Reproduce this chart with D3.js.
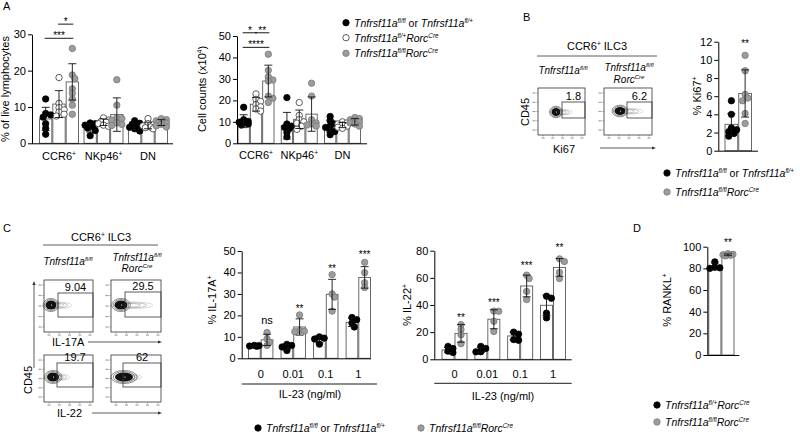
<!DOCTYPE html>
<html><head><meta charset="utf-8">
<script src="https://cdn.jsdelivr.net/npm/d3@7/dist/d3.min.js"></script>
<style>html,body{margin:0;padding:0;background:#fff}svg{display:block}</style>
</head><body>
<svg id="fig" width="800" height="435" xmlns="http://www.w3.org/2000/svg"></svg>
<script>
// ================= DATA =================
const subsetBase = ["CCR6", "NKp46", "DN"];
const subsetSup  = ["+", "+", ""];

// Panel A left: % of live lymphocytes
const liveTicks = [0, 10, 20, 30];
const liveCtrlMean = [6.7, 4.3, 4.7], liveCtrlSd = [3.2, 1.2, 0.9];
const liveHetMean  = [10.8, 5.8, 4.9], liveHetSd  = [3.7, 0.9, 0.9];
const liveKoMean   = [16.9, 7.9, 5.7], liveKoSd   = [5.0, 4.6, 0.8];
const liveCtrlPts = [[12.2,8.2,7.8,7.2,5.4,4.1,2.5],[5.6,5.4,5.0,4.6,4.2,3.5,2.1],[6.2,5.5,5.2,4.8,4.4,4.0,3.4]];
const liveHetPts  = [[18.1,11.0,9.8,9.2,8.6,8.0,7.5],[7.0,6.4,6.0,5.8,5.4,5.0,4.7],[6.8,5.4,5.1,4.8,4.5,4.3,4.0]];
const liveKoPts   = [[26.1,18.8,17.8,15.0,13.8,12.2,10.5,8.0],[17.5,10.5,7.0,6.8,6.4,5.6,5.2,4.9],[6.8,6.5,6.2,6.0,5.8,5.5,5.2,4.8,4.5]];
const liveSig = [{a:"ctrl", b:"ko", at:28.9, label:"***"}, {a:"het", b:"ko", at:32.8, label:"*"}];

// Panel A middle: cell counts (x10^4)
const countTicks = [0, 10, 20, 30, 40, 50];
const countCtrlMean = [10.3, 8.2, 8.0], countCtrlSd = [3.0, 6.2, 2.8];
const countHetMean  = [18.2, 11.2, 8.5], countHetSd  = [3.2, 4.3, 1.2];
const countKoMean   = [29.0, 13.6, 10.0], countKoSd  = [7.4, 8.0, 1.5];
const countCtrlPts = [[16.8,11.0,10.2,9.8,9.4,9.0,8.5],[21.3,9.0,8.0,7.4,6.8,5.0,3.0],[12.5,10.5,9.0,8.0,7.4,6.0,5.5,4.0]];
const countHetPts  = [[23.0,20.5,19.5,18.0,17.0,16.0,15.0],[19.0,13.0,11.0,10.0,9.4,8.0,6.5],[10.0,9.5,9.0,8.5,8.0,7.5,7.0]];
const countKoPts   = [[41.5,34.0,31.0,29.5,29.0,22.0,21.0,19.0],[28.0,22.0,11.0,9.5,9.0,8.5,8.0],[12.0,11.5,11.0,10.5,10.0,9.5,9.0,8.0]];
const countSig = [{a:"ctrl", b:"ko", at:44.7, label:"****"}, {a:"ctrl", b:"het", at:51.5, label:"*"}, {a:"het", b:"ko", at:51.5, label:"**"}];

// Panel B: % Ki67+
const ki67Ticks = [0, 2, 4, 6, 8, 10, 12];
const ki67Mean = [2.9, 6.3], ki67Sd = [1.2, 2.6];
const ki67CtrlPts = [5.5, 4.0, 2.5, 2.3, 2.1, 1.9, 1.6];
const ki67KoPts   = [10.5, 8.8, 6.2, 5.8, 5.5, 4.1, 3.0];
const ki67SigAt = 11.4, ki67SigLabel = "**";
const flowB = ["1.8", "6.2"];

// Panel C: IL-23 stimulation
const doseCats = ["0", "0.01", "0.1", "1"];
const il17Ticks = [0, 10, 20, 30, 40, 50];
const il17CtrlMean = [5.8, 5.4, 8.8, 16.8], il17CtrlSd = [0.3, 1.2, 1.6, 2.0];
const il17KoMean   = [8.6, 14.6, 29.8, 37.7], il17KoSd  = [2.6, 3.8, 7.0, 5.0];
const il17CtrlPts = [[6.0,5.9,5.7,5.6],[6.5,6.0,5.3,3.6],[10.0,9.4,9.0,6.6],[19.0,18.0,16.4,14.6]];
const il17KoPts   = [[12.0,9.0,7.5,6.0],[20.2,13.0,12.4,12.6],[39.0,30.0,28.5,22.0],[44.7,39.9,35.2,33.0]];
const il17SigLabels = ["ns", "**", "**", "***"];
const il17SigAt = [16.2, 21.6, 40.4, 46.7];

const il22Ticks = [0, 20, 40, 60, 80];
const il22CtrlMean = [6.9, 6.9, 17.2, 39.8], il22CtrlSd = [1.8, 1.8, 2.9, 7.5];
const il22KoMean   = [19.1, 29.5, 54.0, 67.7], il22KoSd  = [6.5, 7.0, 8.0, 6.5];
const il22CtrlPts = [[9.5,8.0,6.0,5.0],[9.5,8.0,5.5,5.6],[20.0,18.5,14.5,14.0],[46.5,45.0,34.0,30.5]];
const il22KoPts   = [[25.5,22.0,18.0,11.5],[35.5,35.4,28.0,20.5],[62.0,59.5,50.0,44.0],[74.0,72.0,64.0,59.5]];
const il22SigLabels = ["**", "***", "***", "**"];
const il22SigAt = [28.2, 38.9, 66.5, 79.7];
const flowC17 = ["9.04", "29.5"];
const flowC22 = ["19.7", "62"];

// Panel D: % RANKL+
const ranklTicks = [0, 20, 40, 60, 80, 100];
const ranklMean = [82.0, 92.5], ranklSd = [3.0, 0.8];
const ranklHetPts = [86, 81, 80.5, 80];
const ranklKoPts  = [93.5, 93, 92.5, 92, 91.5];
const ranklSigAt = 100.2, ranklSigLabel = "**";

// ================= DRAWING =================
const FONT = '"Liberation Sans", Arial, Helvetica, sans-serif';
const svg = d3.select("#fig").attr("font-family", FONT);
const COL = {
  ctrl: {fill: "#000", stroke: "#000"},
  het:  {fill: "#fff", stroke: "#333"},
  ko:   {fill: "#9c9c9c", stroke: "#7a7a7a"}
};
const R = 3.2;

function rich(g, x, y, parts, o = {}) {
  const fs = o.size || 11;
  const t = g.append("text").attr("x", x).attr("y", y).attr("font-size", fs)
    .attr("text-anchor", o.anchor || "start").attr("fill", o.fill || "#000");
  if (o.rotate) t.attr("transform", `rotate(-90,${x},${y})`);
  let shift = 0;
  parts.forEach(p => {
    const s = t.append("tspan").text(p.t);
    const target = p.sup ? -0.4 * fs : 0;
    if (target !== shift) { s.attr("dy", target - shift); shift = target; }
    s.attr("font-size", p.sup ? fs * 0.6 : fs);
    if (p.it) s.attr("font-style", "italic");
  });
  return t;
}
const gene = (sup, rorc) => {
  const p = [{t: "Tnfrsf11a", it: true}, {t: sup, sup: true, it: true}];
  if (rorc) p.push({t: "Rorc", it: true}, {t: "Cre", sup: true, it: true});
  return p;
};
const ctrlLegend = gene("fl/fl").concat([{t: " or "}], gene("fl/+"));

// deterministic horizontal spread of points inside a bar
function swarm(vals, y, bw) {
  const order = vals.map((v, i) => ({i, py: y(v)})).sort((a, b) => a.py - b.py);
  const placed = [], out = new Array(vals.length).fill(0);
  const maxOff = Math.max(0, bw / 2 - R * 0.5);
  const step = Math.min(R * 1.0, maxOff / 2 || 0);
  const cand = [0, 1, -1, 2, -2].map(c => c * step).filter(o => Math.abs(o) <= maxOff + 0.01);
  const minD = R * 1.25;
  order.forEach(o => {
    let best = cand[0], bestD = -1;
    for (const ox of cand) {
      const d = placed.length ? Math.min(...placed.map(p => Math.hypot(p.x - ox, p.y - o.py))) : 1e9;
      if (d >= minD) { best = ox; bestD = 1e9; break; }
      if (d > bestD) { bestD = d; best = ox; }
    }
    placed.push({x: best, y: o.py}); out[o.i] = best;
  });
  return out;
}

function barDot(cfg) {
  const g = svg.append("g");
  const y = d3.scaleLinear().domain([0, cfg.yMax]).range([cfg.yBottom, cfg.yTop]);
  const x = d3.scaleBand().domain(cfg.cats).range(cfg.band).paddingInner(cfg.pad || 0).paddingOuter(0);
  const xs = d3.scaleBand().domain(cfg.series.map(s => s.key)).range([0, x.bandwidth()]);
  const cx = (c, k) => x(c) + xs(k) + xs.bandwidth() / 2;
  cfg.series.forEach(s => cfg.cats.forEach((c, i) => {
    g.append("rect").attr("x", x(c) + xs(s.key) + 0.5).attr("y", y(s.mean[i]))
      .attr("width", xs.bandwidth() - 1).attr("height", y(0) - y(s.mean[i]))
      .attr("fill", "#fff").attr("stroke", "#5a5a5a").attr("stroke-width", 0.9);
  }));
  cfg.series.forEach(s => cfg.cats.forEach((c, i) => {
    const offs = swarm(s.pts[i], y, xs.bandwidth());
    s.pts[i].forEach((v, j) => g.append("circle").attr("cx", cx(c, s.key) + offs[j]).attr("cy", y(v))
      .attr("r", R).attr("fill", COL[s.key].fill).attr("stroke", COL[s.key].stroke).attr("stroke-width", 0.8));
  }));
  const cap = 4;
  cfg.series.forEach(s => cfg.cats.forEach((c, i) => {
    const xc = cx(c, s.key), hi = y(s.mean[i] + s.sd[i]), lo = y(Math.max(0, s.mean[i] - s.sd[i]));
    g.append("line").attr("x1", xc).attr("x2", xc).attr("y1", hi).attr("y2", lo).attr("stroke", "#111").attr("stroke-width", 0.9);
    [hi, lo].forEach(yy => g.append("line").attr("x1", xc - cap).attr("x2", xc + cap).attr("y1", yy).attr("y2", yy).attr("stroke", "#111").attr("stroke-width", 0.9));
  }));
  const ax = d3.axisLeft(y).tickValues(cfg.ticks).tickSize(4).tickSizeOuter(0).tickPadding(2);
  const a = g.append("g").attr("transform", `translate(${cfg.axisX},0)`).call(ax);
  a.attr("font-family", null).attr("font-size", null);
  a.selectAll("text").attr("font-size", 11).attr("fill", "#000");
  a.select(".domain").attr("stroke", "#000");
  a.selectAll(".tick line").attr("stroke", "#000");
  g.append("line").attr("x1", cfg.axisX).attr("x2", cfg.axisEnd).attr("y1", y(0) + 0.5).attr("y2", y(0) + 0.5)
    .attr("stroke", "#000");
  return {g, x, xs, y, cx};
}

function sigBars(ch, cat, sigs) {
  sigs.forEach(s => {
    const x1 = ch.cx(cat, s.a) - 1, x2 = ch.cx(cat, s.b) + 1, yy = ch.y(s.at);
    ch.g.append("line").attr("x1", x1).attr("x2", x2).attr("y1", yy).attr("y2", yy).attr("stroke", "#000").attr("stroke-width", 0.9);
    ch.g.append("text").attr("x", (x1 + x2) / 2).attr("y", yy + 1).attr("text-anchor", "middle").attr("font-size", 10).attr("fill", "#000").text(s.label);
  });
}

function legendRow(x, y, key, parts) {
  svg.append("circle").attr("cx", x).attr("cy", y).attr("r", R).attr("fill", COL[key].fill).attr("stroke", COL[key].stroke).attr("stroke-width", 0.8);
  rich(svg, x + 8, y + 4, parts, {size: 10.5});
}

// ---- Panel A left ----
const aLeft = barDot({
  cats: subsetBase, yMax: 30, yBottom: 143.3, yTop: 34.3, ticks: liveTicks,
  band: [39, 168], pad: 0.101, axisX: 32, axisEnd: 173,
  series: [
    {key: "ctrl", mean: liveCtrlMean, sd: liveCtrlSd, pts: liveCtrlPts},
    {key: "het",  mean: liveHetMean,  sd: liveHetSd,  pts: liveHetPts},
    {key: "ko",   mean: liveKoMean,   sd: liveKoSd,   pts: liveKoPts}]
});
sigBars(aLeft, "CCR6", liveSig);
subsetBase.forEach((c, i) => rich(svg, aLeft.x(c) + aLeft.x.bandwidth() / 2, 160, [{t: c}, {t: subsetSup[i], sup: true}], {anchor: "middle"}));
rich(svg, 9, 89, [{t: "% of live lymphocytes"}], {rotate: true, anchor: "middle"});

// ---- Panel A middle ----
const aMid = barDot({
  cats: subsetBase, yMax: 50, yBottom: 143.3, yTop: 36, ticks: countTicks,
  band: [237.5, 361], pad: 0.1445, axisX: 237, axisEnd: 367,
  series: [
    {key: "ctrl", mean: countCtrlMean, sd: countCtrlSd, pts: countCtrlPts},
    {key: "het",  mean: countHetMean,  sd: countHetSd,  pts: countHetPts},
    {key: "ko",   mean: countKoMean,   sd: countKoSd,   pts: countKoPts}]
});
sigBars(aMid, "CCR6", countSig);
subsetBase.forEach((c, i) => rich(svg, aMid.x(c) + aMid.x.bandwidth() / 2, 159, [{t: c}, {t: subsetSup[i], sup: true}], {anchor: "middle"}));
rich(svg, 206, 89, [{t: "Cell counts (x10"}, {t: "4", sup: true}, {t: ")"}], {rotate: true, anchor: "middle"});

legendRow(346, 22.7, "ctrl", ctrlLegend);
legendRow(346, 37.7, "het", gene("fl/+", true));
legendRow(346, 53.3, "ko", gene("fl/fl", true));

// ---- Panel letters ----
[["A", 3, 10], ["B", 523, 21], ["C", 3, 232], ["D", 633, 232]].forEach(([t, x, y]) =>
  svg.append("text").attr("x", x).attr("y", y).attr("font-size", 11).text(t));

// ---- Flow plot helpers ----
function arrowH(x1, x2, y) {
  svg.append("line").attr("x1", x1).attr("x2", x2 - 2).attr("y1", y).attr("y2", y).attr("stroke", "#333").attr("stroke-width", 0.8);
  svg.append("path").attr("d", `M${x2},${y}L${x2 - 4},${y - 1.6}L${x2 - 4},${y + 1.6}Z`).attr("fill", "#333");
}
function arrowV(x, y1, y2) {
  svg.append("line").attr("x1", x).attr("x2", x).attr("y1", y1 + 2).attr("y2", y2).attr("stroke", "#333").attr("stroke-width", 0.8);
  svg.append("path").attr("d", `M${x},${y1}L${x - 1.6},${y1 + 4}L${x + 1.6},${y1 + 4}Z`).attr("fill", "#333");
}
function flow(x0, y0, w, h, gate, label, core) {
  const g = svg.append("g");
  g.append("rect").attr("x", x0).attr("y", y0).attr("width", w).attr("height", h).attr("fill", "#fff").attr("stroke", "#333").attr("stroke-width", 0.8);
  for (let k = 0; k < 5; k++) {
    const tx = x0 + 5 + k * (w - 8) / 4, ty = y0 + h - 5 - k * (h - 10) / 4;
    g.append("line").attr("x1", tx).attr("x2", tx).attr("y1", y0 + h).attr("y2", y0 + h + 1.5).attr("stroke", "#555").attr("stroke-width", 0.5);
    g.append("line").attr("x1", x0 - 1.5).attr("x2", x0).attr("y1", ty).attr("y2", ty).attr("stroke", "#555").attr("stroke-width", 0.5);
    // tiny (illegible) tick labels as marks
    g.append("rect").attr("x", tx - 1.5).attr("y", y0 + h + 2.5).attr("width", 3).attr("height", 1.1).attr("fill", "#999");
    g.append("rect").attr("x", x0 - 5.5).attr("y", ty - 0.5).attr("width", 3).attr("height", 1.1).attr("fill", "#999");
  }
  const [cx, cy, rx, ry, tail] = core;
  for (let k = 0; k < 3; k++) {
    g.append("ellipse").attr("cx", cx + tail * (0.45 - 0.08 * k)).attr("cy", cy + 0.3)
      .attr("rx", tail * (0.62 - 0.14 * k) + rx * 0.3).attr("ry", ry * (0.72 - 0.16 * k))
      .attr("fill", "none").attr("stroke", k === 0 ? "#bbb" : "#888").attr("stroke-width", 0.5);
  }
  [1.45, 1.2].forEach(s => g.append("ellipse").attr("cx", cx).attr("cy", cy).attr("rx", rx * s).attr("ry", ry * s)
    .attr("fill", "none").attr("stroke", "#444").attr("stroke-width", 0.6));
  g.append("ellipse").attr("cx", cx).attr("cy", cy).attr("rx", rx).attr("ry", ry).attr("fill", "#111");
  g.append("circle").attr("cx", cx + rx * 0.1).attr("cy", cy).attr("r", 0.6).attr("fill", "#fff");
  g.append("rect").attr("x", gate[0]).attr("y", gate[1]).attr("width", gate[2]).attr("height", gate[3])
    .attr("fill", "none").attr("stroke", "#333").attr("stroke-width", 0.8);
  g.append("text").attr("x", gate[0] + gate[2] / 2).attr("y", gate[1] - 2).attr("text-anchor", "middle").attr("font-size", 11).text(label);
}

// ---- Panel B flow ----
rich(svg, 597, 50, [{t: "CCR6"}, {t: "+", sup: true}, {t: " ILC3"}], {anchor: "middle", size: 11});
svg.append("line").attr("x1", 537).attr("x2", 657).attr("y1", 56).attr("y2", 56).attr("stroke", "#333").attr("stroke-width", 0.8);
rich(svg, 563, 74, gene("fl/fl"), {anchor: "middle", size: 10});
rich(svg, 629, 71, gene("fl/fl"), {anchor: "middle", size: 10});
rich(svg, 629, 83, [{t: "Rorc", it: true}, {t: "Cre", sup: true, it: true}], {anchor: "middle", size: 10});
flow(538, 88, 47, 47, [562, 102, 23, 16], flowB[0], [556, 112, 4.5, 4, 14]);
flow(604, 88, 48, 47, [627, 102, 25, 16], flowB[1], [620, 111, 5.5, 4, 20]);
rich(svg, 529, 112, [{t: "CD45"}], {rotate: true, anchor: "middle", size: 11});
rich(svg, 553, 153, [{t: "Ki67"}], {size: 11});
arrowH(600, 656, 148);

// ---- Panel B Ki67 ----
const bKi = barDot({
  cats: ["g"], yMax: 12, yBottom: 150.7, yTop: 41.7, ticks: ki67Ticks,
  band: [724.5, 752], axisX: 718.3, axisEnd: 758,
  series: [
    {key: "ctrl", mean: [ki67Mean[0]], sd: [ki67Sd[0]], pts: [ki67CtrlPts]},
    {key: "ko",   mean: [ki67Mean[1]], sd: [ki67Sd[1]], pts: [ki67KoPts]}]
});
bKi.g.append("text").attr("x", bKi.cx("g", "ko")).attr("y", bKi.y(ki67SigAt)).attr("text-anchor", "middle").attr("font-size", 10).attr("fill", "#000").text(ki67SigLabel);
rich(svg, 701, 96, [{t: "% Ki67"}, {t: "+", sup: true}], {rotate: true, anchor: "middle"});
legendRow(667, 173, "ctrl", ctrlLegend);
legendRow(667, 192, "ko", gene("fl/fl", true));

// ---- Panel C flow ----
rich(svg, 101, 241, [{t: "CCR6"}, {t: "+", sup: true}, {t: " ILC3"}], {anchor: "middle", size: 11});
svg.append("line").attr("x1", 43).attr("x2", 158).attr("y1", 245).attr("y2", 245).attr("stroke", "#333").attr("stroke-width", 0.8);
rich(svg, 68, 265, gene("fl/fl"), {anchor: "middle", size: 10});
rich(svg, 137, 261, gene("fl/fl"), {anchor: "middle", size: 10});
rich(svg, 137, 272, [{t: "Rorc", it: true}, {t: "Cre", sup: true, it: true}], {anchor: "middle", size: 10});
flow(44, 280, 49, 52, [58, 293, 35, 24], flowC17[0], [51, 305, 5.5, 4.5, 18]);
flow(111, 280, 50, 52, [125, 292, 36, 25], flowC17[1], [121, 305, 6.5, 4.5, 28]);
flow(44, 355, 49, 47, [57, 363, 36, 24], flowC22[0], [53, 377, 6, 4.5, 14]);
flow(111, 355, 50, 47, [123, 363, 38, 24], flowC22[1], [124, 377, 9, 4.5, 14]);
rich(svg, 52, 346, [{t: "IL-17A"}], {size: 11});
arrowH(88, 162, 342);
rich(svg, 57, 417, [{t: "IL-22"}], {size: 11});
arrowH(92, 162, 413);
arrowV(34, 281, 368);
rich(svg, 32, 380, [{t: "CD45"}], {rotate: true, anchor: "middle", size: 11});

// ---- Panel C IL-17A ----
const c17 = barDot({
  cats: doseCats, yMax: 50, yBottom: 358.3, yTop: 251, ticks: il17Ticks,
  band: [248, 371], pad: 0.219, axisX: 241.7, axisEnd: 371,
  series: [
    {key: "ctrl", mean: il17CtrlMean, sd: il17CtrlSd, pts: il17CtrlPts},
    {key: "ko",   mean: il17KoMean,   sd: il17KoSd,   pts: il17KoPts}]
});
doseCats.forEach((c, i) => {
  c17.g.append("text").attr("x", c17.cx(c, "ko")).attr("y", c17.y(il17SigAt[i])).attr("text-anchor", "middle")
    .attr("font-size", il17SigLabels[i] === "ns" ? 11 : 10).attr("fill", "#000").text(il17SigLabels[i]);
  c17.g.append("text").attr("x", c17.x(c) + c17.x.bandwidth() / 2).attr("y", 377.5).attr("text-anchor", "middle").attr("font-size", 11).text(c);
});
svg.append("line").attr("x1", 241.7).attr("x2", 377).attr("y1", 384).attr("y2", 384).attr("stroke", "#000").attr("stroke-width", 0.9);
rich(svg, 310, 398, [{t: "IL-23 (ng/ml)"}], {anchor: "middle"});
rich(svg, 216, 300, [{t: "% IL-17A"}, {t: "+", sup: true}], {rotate: true, anchor: "middle"});

// ---- Panel C IL-22 ----
const c22 = barDot({
  cats: doseCats, yMax: 80, yBottom: 359.3, yTop: 250.7, ticks: il22Ticks,
  band: [441.5, 566], pad: 0.208, axisX: 434.3, axisEnd: 571.7,
  series: [
    {key: "ctrl", mean: il22CtrlMean, sd: il22CtrlSd, pts: il22CtrlPts},
    {key: "ko",   mean: il22KoMean,   sd: il22KoSd,   pts: il22KoPts}]
});
doseCats.forEach((c, i) => {
  c22.g.append("text").attr("x", c22.cx(c, "ko")).attr("y", c22.y(il22SigAt[i])).attr("text-anchor", "middle").attr("font-size", 10).attr("fill", "#000").text(il22SigLabels[i]);
  c22.g.append("text").attr("x", c22.x(c) + c22.x.bandwidth() / 2).attr("y", 378).attr("text-anchor", "middle").attr("font-size", 11).text(c);
});
svg.append("line").attr("x1", 434.3).attr("x2", 571.7).attr("y1", 383.3).attr("y2", 383.3).attr("stroke", "#000").attr("stroke-width", 0.9);
rich(svg, 503, 400, [{t: "IL-23 (ng/ml)"}], {anchor: "middle"});
rich(svg, 411, 305, [{t: "% IL-22"}, {t: "+", sup: true}], {rotate: true, anchor: "middle"});

legendRow(258, 428, "ctrl", ctrlLegend);
legendRow(421, 428, "ko", gene("fl/fl", true));

// ---- Panel D ----
const dR = barDot({
  cats: ["g"], yMax: 100, yBottom: 355, yTop: 246.7, ticks: ranklTicks,
  band: [708.3, 734.5], axisX: 707.3, axisEnd: 739.3,
  series: [
    {key: "ctrl", mean: [ranklMean[0]], sd: [ranklSd[0]], pts: [ranklHetPts]},
    {key: "ko",   mean: [ranklMean[1]], sd: [ranklSd[1]], pts: [ranklKoPts]}]
});
dR.g.append("text").attr("x", dR.cx("g", "ko")).attr("y", dR.y(ranklSigAt)).attr("text-anchor", "middle").attr("font-size", 10).attr("fill", "#000").text(ranklSigLabel);
rich(svg, 671, 300, [{t: "% RANKL"}, {t: "+", sup: true}], {rotate: true, anchor: "middle"});
legendRow(657, 405, "ctrl", gene("fl/+", true));
legendRow(657, 422, "ko", gene("fl/fl", true));
</script>
</body></html>
